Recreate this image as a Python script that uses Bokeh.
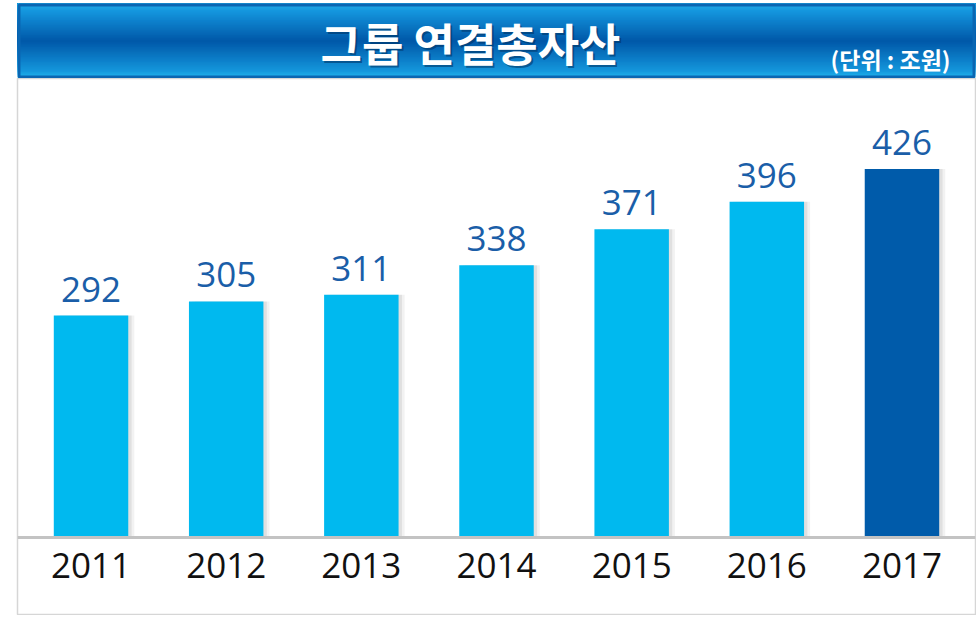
import numpy as np
from bokeh.plotting import figure
from bokeh.models import ColumnDataSource, Range1d, FactorRange, LabelSet, Span
from bokeh.layouts import column
from bokeh.transform import dodge
from bokeh.core.properties import value
from bokeh.embed import file_html
from bokeh.resources import INLINE

# ---- data ----
years = ["2011", "2012", "2013", "2014", "2015", "2016", "2017"]
assets = [292, 305, 311, 338, 371, 396, 426]
bar_colors = ["#00b9ef", "#00b9ef", "#00b9ef", "#00b9ef", "#00b9ef", "#00b9ef", "#005baa"]
title_text = "그룹 연결총자산"
unit_text = "(단위 : 조원)"
base = 89.1          # value at the drawn baseline
y_top = 508.8
y_bottom = 17.8

W = 976
HDR_H = 78
MAIN_H = 537
FL, FR = 17, 975     # frame edges (shared by both figures in the column)

# ---- header ----
hdr = figure(width=W, height=HDR_H, x_range=Range1d(FL, FR), y_range=Range1d(0, HDR_H),
             output_backend="svg", toolbar_location=None,
             min_border_left=FL, min_border_right=W - FR, min_border_top=0, min_border_bottom=0,
             x_axis_location=None, y_axis_location=None)
hdr.grid.visible = False
hdr.outline_line_color = None
hdr.background_fill_color = "white"
hdr.border_fill_color = "white"

band_top = HDR_H - 3
n = 45
edges = np.linspace(0, band_top, n + 1)
tmid = (edges[:-1] + edges[1:]) / 2 / band_top
stops_t = [0.0, 0.1, 0.5, 0.9, 1.0]
stops_c = np.array([[35, 185, 240], [20, 150, 220], [0, 88, 168], [20, 150, 222], [35, 175, 232]])
cols = []
for t in tmid:
    rgb = [np.interp(t, stops_t, stops_c[:, k]) for k in range(3)]
    cols.append("#%02x%02x%02x" % tuple(int(round(v)) for v in rgb))
# nested strips: each one reaches the top, later ones cover the upper part -> no seams
hdr.quad(left=FL, right=FR, bottom=edges[:-1], top=band_top,
         fill_color=cols, line_color=None)
hdr.quad(left=FL + 1.5, right=FR - 1.5, bottom=1.5, top=band_top - 1.5, fill_color=None,
         line_color="#0a66b2", line_width=3)

hdr.text(x=[472], y=[34], text=[title_text], text_font=value("Noto Sans CJK KR"),
         text_font_style="bold", text_font_size="45px", text_color="#00305e", text_alpha=0.55,
         text_align="center", text_baseline="middle")
hdr.text(x=[470], y=[36], text=[title_text], text_font=value("Noto Sans CJK KR"),
         text_font_style="bold", text_font_size="45px", text_color="white",
         text_align="center", text_baseline="middle")
hdr.text(x=[950], y=[20], text=[unit_text], text_font=value("Noto Sans CJK KR"),
         text_font_style="bold", text_font_size="23px", text_color="white",
         text_align="right", text_baseline="middle")

# ---- main chart ----
src = ColumnDataSource(dict(year=years, value=assets, color=bar_colors,
                            label=[str(v) for v in assets]))

p = figure(width=W, height=MAIN_H,
           x_range=FactorRange(*years, range_padding=0.044, range_padding_units="absolute"),
           y_range=Range1d(y_bottom, y_top),
           output_backend="svg", toolbar_location=None, y_axis_location=None,
           min_border_left=FL, min_border_right=W - FR, min_border_top=0, min_border_bottom=0)
p.grid.visible = False
p.outline_line_color = "#d6d6d6"
p.outline_line_width = 1.5
p.background_fill_color = "white"
p.border_fill_color = "white"

p.vbar(x=dodge("year", 0.045, range=p.x_range), top="value", bottom=base, width=0.551,
       source=src, fill_color="black", fill_alpha=0.05, line_color=None)
p.vbar(x=dodge("year", 0.025, range=p.x_range), top="value", bottom=base, width=0.551,
       source=src, fill_color="black", fill_alpha=0.07, line_color=None)
p.vbar(x="year", top="value", bottom=base, width=0.551, source=src,
       fill_color="color", line_color=None)

p.add_layout(Span(location=base, dimension="width", line_color="#c3c3c3", line_width=3))

labels = LabelSet(x="year", y="value", text="label", source=src, level="glyph",
                  y_offset=14, text_align="center", text_baseline="alphabetic",
                  text_font=value("Open Sans"), text_font_size="35px", text_color="#1a5ea8")
p.add_layout(labels)

ax = p.xaxis[0]
ax.axis_line_color = None
ax.major_tick_line_color = None
ax.minor_tick_line_color = None
ax.major_tick_out = 0
ax.major_tick_in = 0
ax.major_label_text_font = "Open Sans"
ax.major_label_text_font_size = "35px"
ax.major_label_text_color = "#111111"
ax.major_label_standoff = -63

layout = column(hdr, p, spacing=0)
open("out.html", "w").write(file_html(layout, INLINE))
